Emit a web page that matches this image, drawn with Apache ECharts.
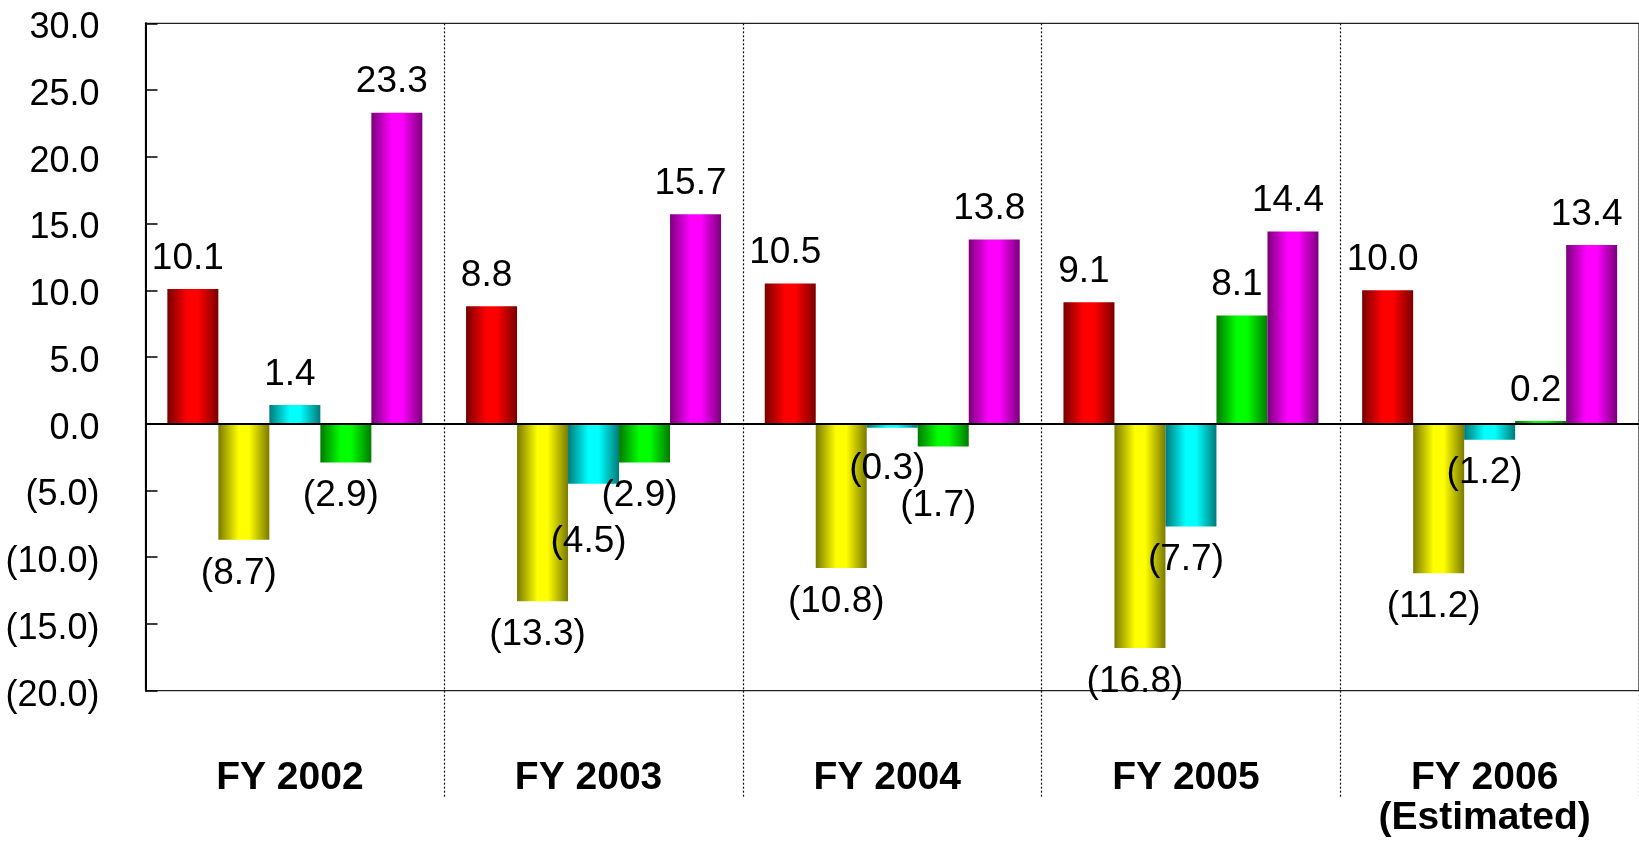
<!DOCTYPE html>
<html>
<head>
<meta charset="utf-8">
<script src="https://cdn.jsdelivr.net/npm/echarts@6/dist/echarts.min.js"></script>
<style>
  html, body { margin: 0; padding: 0; background: #fff; }
  #main { width: 1639px; height: 843px; }
</style>
</head>
<body>
<div id="main"></div>
<script>
// data
var categories = ['FY 2002', 'FY 2003', 'FY 2004', 'FY 2005', 'FY 2006\n(Estimated)'];
var redValues = [10.1, 8.8, 10.5, 9.1, 10.0];
var yellowValues = [-8.7, -13.3, -10.8, -16.8, -11.2];
var cyanValues = [1.4, -4.5, -0.3, -7.7, -1.2];
var greenValues = [-2.9, -2.9, -1.7, 8.1, 0.2];
var magentaValues = [23.3, 15.7, 13.8, 14.4, 13.4];
var yMin = -20, yMax = 30, yStep = 5;

var FONT = '"Liberation Sans", Arial, sans-serif';

// a few labels in the original were pushed down to dodge their neighbours
var labelNudge = { 'C-1': 24, 'C-2': 8, 'D-2': 26 };

function fmt(v) {
    // negatives shown in brackets
    return v < 0 ? '(' + Math.abs(v).toFixed(1) + ')' : v.toFixed(1);
}

function shade(dark, bright) {
    return new echarts.graphic.LinearGradient(0, 0, 1, 0, [
        { offset: 0, color: dark },
        { offset: 0.4, color: bright },
        { offset: 0.6, color: bright },
        { offset: 1, color: dark }
    ]);
}

function makeSeries(name, values, dark, bright) {
    return {
        name: name,
        type: 'bar',
        barWidth: 51,
        barGap: '0%',
        itemStyle: { color: shade(dark, bright) },
        label: {
            show: true,
            formatter: function (p) { return fmt(p.value); },
            fontFamily: FONT,
            fontSize: 37,
            color: '#000'
        },
        data: values.map(function (v, i) {
            var dy = labelNudge[name + '-' + i] || 0;
            return {
                value: v,
                label: {
                    position: v < 0 ? 'bottom' : 'top',
                    distance: v < 0 ? 15 : 12,
                    offset: [-5, dy]
                }
            };
        })
    };
}

var chart = echarts.init(document.getElementById('main'));
var series = [
    makeSeries('A', redValues, '#7a0000', '#ff0000'),
    makeSeries('B', yellowValues, '#7a7a00', '#ffff00'),
    makeSeries('C', cyanValues, '#007a7a', '#00ffff'),
    makeSeries('D', greenValues, '#007a00', '#00ff00'),
    makeSeries('E', magentaValues, '#7a007a', '#ff00ff')
];
// zero line
series[0].markLine = {
    silent: true,
    symbol: 'none',
    label: { show: false },
    lineStyle: { color: '#000', width: 2, type: 'solid' },
    data: [{ yAxis: 0 }]
};

var sepStyle = { color: '#111', type: [2, 2], width: 1.2 };

chart.setOption({
    animation: false,
    grid: {
        left: 145.5,
        right: -14,
        top: 23.3,
        bottom: 152.3,
        show: true,
        borderColor: '#222',
        borderWidth: 1.2
    },
    xAxis: {
        type: 'category',
        data: categories,
        axisLine: { onZero: false, lineStyle: { color: '#222', width: 1.2 } },
        axisTick: {
            show: true,
            length: 108,
            interval: function (i) { return i > 0; },
            lineStyle: sepStyle
        },
        splitLine: {
            show: true,
            interval: function (i) { return i > 0; },
            lineStyle: sepStyle
        },
        axisLabel: {
            fontFamily: FONT,
            fontWeight: 'bold',
            fontSize: 39,
            lineHeight: 40,
            color: '#000',
            margin: 68,
            padding: [0, 10, 0, 0]
        }
    },
    yAxis: {
        type: 'value',
        min: yMin,
        max: yMax,
        interval: yStep,
        axisLine: { show: true, lineStyle: { color: '#000', width: 2 } },
        axisTick: { show: true, inside: true, length: 12, lineStyle: { color: '#000', width: 1.5 } },
        splitLine: { show: false },
        axisLabel: {
            fontFamily: FONT,
            fontSize: 36,
            color: '#000',
            margin: 46,
            verticalAlign: 'top',
            lineHeight: 10,
            formatter: fmt
        }
    },
    series: series
});
</script>
</body>
</html>
